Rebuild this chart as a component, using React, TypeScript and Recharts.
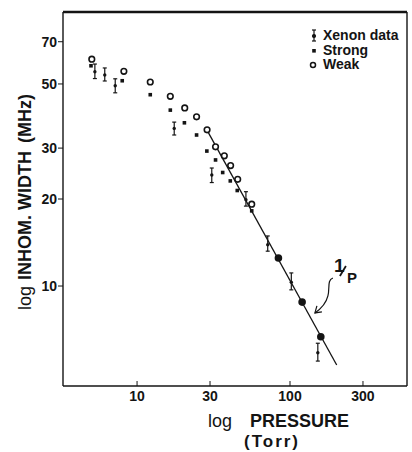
import React from 'react';
import { ScatterChart, Scatter, XAxis, YAxis, ErrorBar, ReferenceLine, ReferenceDot, Legend, Label } from 'recharts';

const FONT = '"Liberation Sans", Arial, Helvetica, sans-serif';
const INK = '#141414';

// xenon measurements (Torr, MHz) with error bar ends
const xenonPressure = [5.3, 6.15, 7.2, 17.5, 30.8, 51.5, 71.5, 102, 152];
const xenonWidth = [55.1, 53.7, 49.3, 35.1, 24.2, 19.9, 13.9, 10.3, 5.88];
const xenonLow = [52.2, 51.2, 46.6, 33.3, 22.8, 18.9, 13.2, 9.7, 5.5];
const xenonHigh = [58.6, 56.8, 52.1, 36.9, 25.6, 21.2, 14.9, 11.1, 6.34];

const strongPressure = [5.0, 8.0, 12.2, 16.5, 20.4, 24.5, 28.6, 32.6, 36.3, 40.7, 45.2, 56.2];
const strongWidth = [57.8, 51.3, 45.9, 40.6, 36.7, 33.3, 29.3, 27.3, 24.7, 23.1, 21.4, 18.2];

const weakPressure = [5.06, 8.2, 12.2, 16.5, 20.5, 24.5, 28.7, 32.6, 37.2, 40.9, 45.5, 56.2];
const weakWidth = [60.9, 55.3, 50.8, 45.3, 41.3, 38.5, 34.7, 30.3, 28.2, 26.1, 23.4, 19.2];

// large filled dots on the 1/P line
const highPressure = [84, 120, 159];
const highWidth = [12.5, 8.8, 6.68];

// 1/P guide line end points
const fitPressure = [28.6, 202];
const fitWidth = [34.7, 5.33];

const xTicks = [10, 30, 100, 300];
const yTicks = [10, 20, 30, 50, 70];
const xDomain = [3.28, 582];
const yDomain = [4.51, 88.7];

const legendItems = ['Xenon data', 'Strong', 'Weak'];

const xenonData = xenonPressure.map((x, i) => ({
  x,
  y: xenonWidth[i],
  err: [xenonWidth[i] - xenonLow[i], xenonHigh[i] - xenonWidth[i]],
}));
const strongData = strongPressure.map((x, i) => ({ x, y: strongWidth[i] }));
const weakData = weakPressure.map((x, i) => ({ x, y: weakWidth[i] }));
const highData = highPressure.map((x, i) => ({ x, y: highWidth[i] }));
const fitData = fitPressure.map((x, i) => ({ x, y: fitWidth[i] }));

const XTick = ({ x, y, payload }: any) => (
  <g>
    <line x1={x} x2={x} y1={y - 5} y2={y - 10} stroke={INK} strokeWidth={1} />
    <text x={x} y={y} dy="0.71em" textAnchor="middle" fontFamily={FONT} fontWeight={700} fontSize={14} fill={INK}>
      {payload.value}
    </text>
  </g>
);

const XLabel = ({ viewBox }: any) => {
  const { x, y } = viewBox;
  return (
    <g fontFamily={FONT} fill={INK}>
      <text x={x + 145} y={y + 41} fontSize={18}>log</text>
      <text x={x + 187} y={y + 41} fontSize={18} fontWeight={700}>PRESSURE</text>
      <text x={x + 209} y={y + 61} fontSize={17} fontWeight={700} textAnchor="middle" letterSpacing={2}>(Torr)</text>
    </g>
  );
};

const YLabel = ({ viewBox }: any) => {
  const cx = viewBox.x + 31;
  const cy = 202;
  return (
    <text x={cx} y={cy} transform={`rotate(-90, ${cx}, ${cy})`} textAnchor="middle" fontFamily={FONT} fontSize={18} fill={INK}>
      <tspan>log</tspan>
      <tspan fontWeight={700} dx={6}>INHOM. WIDTH</tspan>
      <tspan fontWeight={700} dx={8}>(MHz)</tspan>
    </text>
  );
};

const XenonDot = ({ cx, cy }: any) => <circle cx={cx} cy={cy} r={1.7} fill={INK} />;
const StrongDot = ({ cx, cy }: any) => <rect x={cx - 1.8} y={cy - 1.8} width={3.6} height={3.6} fill={INK} />;
const WeakDot = ({ cx, cy }: any) => <circle cx={cx} cy={cy} r={2.8} fill="#fff" stroke={INK} strokeWidth={1.6} />;
const HighDot = ({ cx, cy }: any) => <circle cx={cx} cy={cy} r={3.8} fill={INK} />;
const NoDot = () => <g />;

const Annotation = ({ cx, cy }: any) => (
  <g fill="none" stroke={INK} strokeWidth={1.2}>
    <path d={`M${cx + 18},${cy - 35} C${cx + 12},${cy - 33} ${cx + 15},${cy - 24} ${cx + 13},${cy - 17} C${cx + 11},${cy - 9} ${cx + 6},${cy - 4} ${cx},${cy}`} />
    <path d={`M${cx + 2},${cy - 7} L${cx},${cy} L${cx + 7},${cy - 1}`} />
    <line x1={cx + 25} y1={cy - 37} x2={cx + 31} y2={cy - 47} strokeWidth={1.8} />
    <text x={cx + 19} y={cy - 41} fontFamily={FONT} fontWeight={700} fontSize={19} fill={INK} stroke="none">1</text>
    <text x={cx + 32} y={cy - 30} fontFamily={FONT} fontWeight={700} fontSize={15} fill={INK} stroke="none">P</text>
  </g>
);

const LegendIcon = ({ kind }: { kind: number }) => (
  <svg width={12} height={14} style={{ marginRight: 3 }}>
    {kind === 0 && (
      <g stroke={INK} strokeWidth={1.2}>
        <line x1={6} x2={6} y1={2} y2={13} />
        <line x1={4} x2={8} y1={2} y2={2} />
        <line x1={4} x2={8} y1={13} y2={13} />
        <circle cx={6} cy={8} r={1.5} fill={INK} />
      </g>
    )}
    {kind === 1 && <rect x={4.2} y={6} width={3.6} height={3.6} fill={INK} />}
    {kind === 2 && <circle cx={5} cy={8} r={2.5} fill="#fff" stroke={INK} strokeWidth={1.5} />}
  </svg>
);

const LegendBox = () => (
  <div style={{ fontFamily: FONT, fontWeight: 700, fontSize: 14, color: INK, lineHeight: '14.5px' }}>
    {legendItems.map((name, i) => (
      <div key={name} style={{ display: 'flex', alignItems: 'center', height: 14.5, whiteSpace: 'nowrap' }}>
        <LegendIcon kind={i} />
        <span>{name}</span>
      </div>
    ))}
  </div>
);

export default function App() {
  return (
    <div style={{ position: 'absolute', left: 0, top: 0, width: 412, height: 452, background: '#fff' }}>
      <ScatterChart width={412} height={452} margin={{ top: 12, right: 5, bottom: 0, left: 0 }}>
        <XAxis
          type="number"
          dataKey="x"
          scale="log"
          domain={xDomain}
          allowDataOverflow
          ticks={xTicks}
          height={66}
          tickSize={3}
          tickMargin={2}
          tickLine={false}
          tick={<XTick />}
          axisLine={{ stroke: INK, strokeWidth: 1.4 }}
        >
          <Label content={<XLabel />} />
        </XAxis>
        <YAxis
          type="number"
          dataKey="y"
          scale="log"
          domain={yDomain}
          allowDataOverflow
          ticks={yTicks}
          width={63}
          tickSize={5}
          tickMargin={1}
          tick={{ fontFamily: FONT, fontWeight: 700, fontSize: 14, fill: INK }}
          tickLine={{ stroke: INK }}
          axisLine={{ stroke: INK, strokeWidth: 1.4 }}
        >
          <Label content={<YLabel />} />
        </YAxis>
        <ReferenceLine y={yDomain[1]} stroke={INK} strokeWidth={2.4} ifOverflow="visible" />
        <ReferenceLine x={xDomain[1]} stroke={INK} strokeWidth={1.4} ifOverflow="visible" />
        <Legend
          layout="vertical"
          align="center"
          verticalAlign="middle"
          content={<LegendBox />}
          wrapperStyle={{ position: 'absolute', top: 28, left: 308, width: 104 }}
        />
        <Scatter name="1/P" data={fitData} line={{ stroke: INK, strokeWidth: 1.3 }} shape={<NoDot />} isAnimationActive={false} legendType="none" />
        <Scatter name="Xenon data" data={xenonData} shape={<XenonDot />} isAnimationActive={false}>
          <ErrorBar dataKey="err" direction="y" width={2} stroke={INK} strokeWidth={1.2} isAnimationActive={false} />
        </Scatter>
        <Scatter name="Strong" data={strongData} shape={<StrongDot />} isAnimationActive={false} />
        <Scatter name="Weak" data={weakData} shape={<WeakDot />} isAnimationActive={false} />
        <Scatter name="high" data={highData} shape={<HighDot />} isAnimationActive={false} legendType="none" />
        <ReferenceDot x={145.5} y={8.07} shape={<Annotation />} ifOverflow="visible" />
      </ScatterChart>
    </div>
  );
}
